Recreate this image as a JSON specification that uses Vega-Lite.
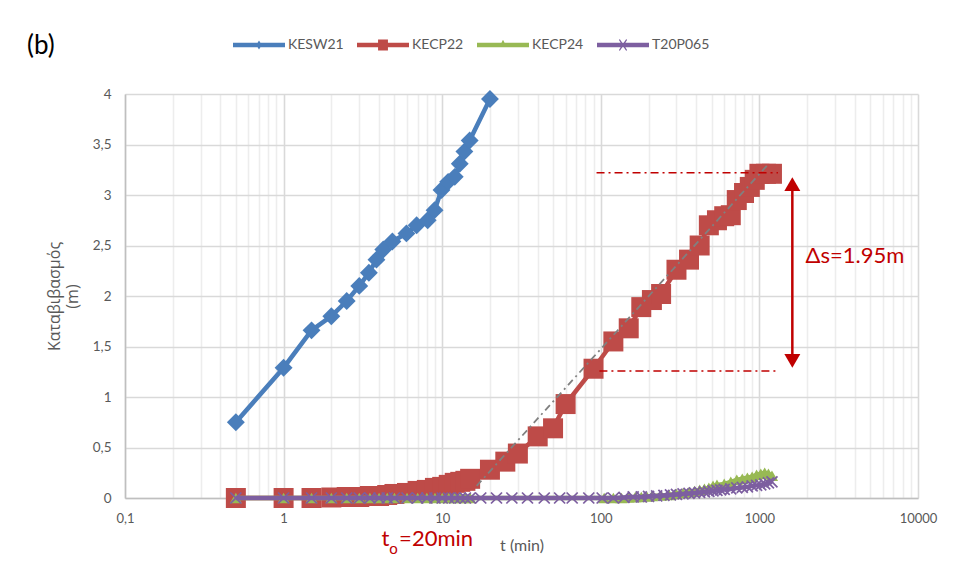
{
  "$schema": "https://vega.github.io/schema/vega-lite/v6.json",
  "width": 793,
  "height": 404,
  "autosize": {"type": "none"},
  "padding": {"left": 125, "top": 94, "right": 35, "bottom": 83},
  "background": "white",
  "title": {"text": "(b)", "anchor": "start", "frame": "group", "fontSize": 26, "font": "Lato", "fontWeight": "normal", "color": "#000000", "dx": -98, "offset": -40},
  "config": {
    "view": {"stroke": null},
    "font": "Lato",
    "axis": {"labelFont": "Lato", "labelColor": "#595959", "titleFont": "Lato", "titleColor": "#595959", "titleFontWeight": "normal", "ticks": false, "domainColor": "#bfbfbf", "domainWidth": 1.5}
  },
  "datasets": {
    "series": [
      {"t": 0.5, "s": 0.75, "well": "KESW21"}, {"t": 1, "s": 1.29, "well": "KESW21"}, {"t": 1.5, "s": 1.66, "well": "KESW21"}, {"t": 2, "s": 1.8, "well": "KESW21"}, {"t": 2.5, "s": 1.95, "well": "KESW21"}, {"t": 3, "s": 2.1, "well": "KESW21"}, {"t": 3.45, "s": 2.23, "well": "KESW21"}, {"t": 3.85, "s": 2.36, "well": "KESW21"}, {"t": 4.25, "s": 2.46, "well": "KESW21"}, {"t": 4.85, "s": 2.54, "well": "KESW21"}, {"t": 5.95, "s": 2.62, "well": "KESW21"}, {"t": 6.9, "s": 2.7, "well": "KESW21"}, {"t": 8.1, "s": 2.75, "well": "KESW21"}, {"t": 8.95, "s": 2.85, "well": "KESW21"}, {"t": 9.9, "s": 3.05, "well": "KESW21"}, {"t": 10.9, "s": 3.13, "well": "KESW21"}, {"t": 12, "s": 3.18, "well": "KESW21"}, {"t": 12.9, "s": 3.31, "well": "KESW21"}, {"t": 13.8, "s": 3.43, "well": "KESW21"}, {"t": 14.9, "s": 3.54, "well": "KESW21"}, {"t": 20, "s": 3.95, "well": "KESW21"},
      {"t": 0.5, "s": 0, "well": "KECP22"}, {"t": 1, "s": 0, "well": "KECP22"}, {"t": 1.5, "s": 0, "well": "KECP22"}, {"t": 2, "s": 0.005, "well": "KECP22"}, {"t": 2.5, "s": 0.01, "well": "KECP22"}, {"t": 3, "s": 0.01, "well": "KECP22"}, {"t": 3.5, "s": 0.02, "well": "KECP22"}, {"t": 4, "s": 0.02, "well": "KECP22"}, {"t": 4.5, "s": 0.03, "well": "KECP22"}, {"t": 5, "s": 0.04, "well": "KECP22"}, {"t": 6, "s": 0.05, "well": "KECP22"}, {"t": 7, "s": 0.07, "well": "KECP22"}, {"t": 8, "s": 0.08, "well": "KECP22"}, {"t": 9, "s": 0.1, "well": "KECP22"}, {"t": 10, "s": 0.11, "well": "KECP22"}, {"t": 11, "s": 0.13, "well": "KECP22"}, {"t": 12, "s": 0.15, "well": "KECP22"}, {"t": 13, "s": 0.16, "well": "KECP22"}, {"t": 14, "s": 0.17, "well": "KECP22"}, {"t": 15, "s": 0.19, "well": "KECP22"}, {"t": 20, "s": 0.28, "well": "KECP22"}, {"t": 25, "s": 0.36, "well": "KECP22"}, {"t": 30, "s": 0.44, "well": "KECP22"}, {"t": 40, "s": 0.61, "well": "KECP22"}, {"t": 50, "s": 0.69, "well": "KECP22"}, {"t": 60, "s": 0.93, "well": "KECP22"}, {"t": 90, "s": 1.28, "well": "KECP22"}, {"t": 120, "s": 1.55, "well": "KECP22"}, {"t": 150, "s": 1.68, "well": "KECP22"}, {"t": 180, "s": 1.89, "well": "KECP22"}, {"t": 210, "s": 1.96, "well": "KECP22"}, {"t": 240, "s": 2.02, "well": "KECP22"}, {"t": 300, "s": 2.26, "well": "KECP22"}, {"t": 360, "s": 2.36, "well": "KECP22"}, {"t": 420, "s": 2.5, "well": "KECP22"}, {"t": 480, "s": 2.7, "well": "KECP22"}, {"t": 540, "s": 2.75, "well": "KECP22"}, {"t": 600, "s": 2.79, "well": "KECP22"}, {"t": 660, "s": 2.8, "well": "KECP22"}, {"t": 720, "s": 2.95, "well": "KECP22"}, {"t": 800, "s": 3.02, "well": "KECP22"}, {"t": 870, "s": 3.08, "well": "KECP22"}, {"t": 935, "s": 3.15, "well": "KECP22"}, {"t": 1000, "s": 3.21, "well": "KECP22"}, {"t": 1100, "s": 3.21, "well": "KECP22"}, {"t": 1200, "s": 3.21, "well": "KECP22"},
      {"t": 0.5, "s": 0, "well": "KECP24"}, {"t": 1, "s": 0, "well": "KECP24"}, {"t": 1.5, "s": 0, "well": "KECP24"}, {"t": 2, "s": 0, "well": "KECP24"}, {"t": 2.5, "s": 0, "well": "KECP24"}, {"t": 3, "s": 0, "well": "KECP24"}, {"t": 3.5, "s": 0, "well": "KECP24"}, {"t": 4, "s": 0, "well": "KECP24"}, {"t": 4.5, "s": 0, "well": "KECP24"}, {"t": 5, "s": 0, "well": "KECP24"}, {"t": 6, "s": 0, "well": "KECP24"}, {"t": 7, "s": 0, "well": "KECP24"}, {"t": 8, "s": 0, "well": "KECP24"}, {"t": 9, "s": 0, "well": "KECP24"}, {"t": 10, "s": 0, "well": "KECP24"}, {"t": 11, "s": 0, "well": "KECP24"}, {"t": 12, "s": 0, "well": "KECP24"}, {"t": 13, "s": 0, "well": "KECP24"}, {"t": 14, "s": 0, "well": "KECP24"}, {"t": 15, "s": 0, "well": "KECP24"}, {"t": 105, "s": 0, "well": "KECP24"}, {"t": 120, "s": 0, "well": "KECP24"}, {"t": 135, "s": 0, "well": "KECP24"}, {"t": 150, "s": 0.005, "well": "KECP24"}, {"t": 165, "s": 0.01, "well": "KECP24"}, {"t": 180, "s": 0.01, "well": "KECP24"}, {"t": 195, "s": 0.015, "well": "KECP24"}, {"t": 210, "s": 0.02, "well": "KECP24"}, {"t": 240, "s": 0.025, "well": "KECP24"}, {"t": 270, "s": 0.03, "well": "KECP24"}, {"t": 300, "s": 0.04, "well": "KECP24"}, {"t": 330, "s": 0.05, "well": "KECP24"}, {"t": 360, "s": 0.06, "well": "KECP24"}, {"t": 390, "s": 0.07, "well": "KECP24"}, {"t": 420, "s": 0.08, "well": "KECP24"}, {"t": 450, "s": 0.09, "well": "KECP24"}, {"t": 480, "s": 0.1, "well": "KECP24"}, {"t": 510, "s": 0.12, "well": "KECP24"}, {"t": 540, "s": 0.13, "well": "KECP24"}, {"t": 600, "s": 0.14, "well": "KECP24"}, {"t": 660, "s": 0.16, "well": "KECP24"}, {"t": 720, "s": 0.18, "well": "KECP24"}, {"t": 780, "s": 0.19, "well": "KECP24"}, {"t": 840, "s": 0.2, "well": "KECP24"}, {"t": 900, "s": 0.21, "well": "KECP24"}, {"t": 960, "s": 0.23, "well": "KECP24"}, {"t": 1020, "s": 0.24, "well": "KECP24"}, {"t": 1080, "s": 0.25, "well": "KECP24"}, {"t": 1140, "s": 0.24, "well": "KECP24"}, {"t": 1200, "s": 0.22, "well": "KECP24"},
      {"t": 0.5, "s": 0, "well": "T20P065"}, {"t": 1, "s": 0, "well": "T20P065"}, {"t": 1.5, "s": 0, "well": "T20P065"}, {"t": 2, "s": 0, "well": "T20P065"}, {"t": 2.5, "s": 0, "well": "T20P065"}, {"t": 3, "s": 0, "well": "T20P065"}, {"t": 3.5, "s": 0, "well": "T20P065"}, {"t": 4, "s": 0, "well": "T20P065"}, {"t": 4.5, "s": 0, "well": "T20P065"}, {"t": 5, "s": 0, "well": "T20P065"}, {"t": 6, "s": 0, "well": "T20P065"}, {"t": 7, "s": 0, "well": "T20P065"}, {"t": 8, "s": 0, "well": "T20P065"}, {"t": 9, "s": 0, "well": "T20P065"}, {"t": 10, "s": 0, "well": "T20P065"}, {"t": 11, "s": 0, "well": "T20P065"}, {"t": 12, "s": 0, "well": "T20P065"}, {"t": 13, "s": 0, "well": "T20P065"}, {"t": 14, "s": 0, "well": "T20P065"}, {"t": 15, "s": 0, "well": "T20P065"}, {"t": 17.5, "s": 0, "well": "T20P065"}, {"t": 22, "s": 0, "well": "T20P065"}, {"t": 27.5, "s": 0, "well": "T20P065"}, {"t": 34.5, "s": 0, "well": "T20P065"}, {"t": 44, "s": 0, "well": "T20P065"}, {"t": 55, "s": 0, "well": "T20P065"}, {"t": 66, "s": 0, "well": "T20P065"}, {"t": 84, "s": 0, "well": "T20P065"}, {"t": 102, "s": 0, "well": "T20P065"}, {"t": 120, "s": 0, "well": "T20P065"}, {"t": 140, "s": 0.005, "well": "T20P065"}, {"t": 160, "s": 0.01, "well": "T20P065"}, {"t": 180, "s": 0.01, "well": "T20P065"}, {"t": 200, "s": 0.015, "well": "T20P065"}, {"t": 225, "s": 0.02, "well": "T20P065"}, {"t": 250, "s": 0.025, "well": "T20P065"}, {"t": 275, "s": 0.03, "well": "T20P065"}, {"t": 300, "s": 0.035, "well": "T20P065"}, {"t": 330, "s": 0.04, "well": "T20P065"}, {"t": 360, "s": 0.045, "well": "T20P065"}, {"t": 390, "s": 0.05, "well": "T20P065"}, {"t": 420, "s": 0.055, "well": "T20P065"}, {"t": 450, "s": 0.06, "well": "T20P065"}, {"t": 480, "s": 0.065, "well": "T20P065"}, {"t": 510, "s": 0.07, "well": "T20P065"}, {"t": 540, "s": 0.075, "well": "T20P065"}, {"t": 570, "s": 0.08, "well": "T20P065"}, {"t": 600, "s": 0.085, "well": "T20P065"}, {"t": 660, "s": 0.09, "well": "T20P065"}, {"t": 720, "s": 0.1, "well": "T20P065"}, {"t": 780, "s": 0.105, "well": "T20P065"}, {"t": 840, "s": 0.11, "well": "T20P065"}, {"t": 900, "s": 0.12, "well": "T20P065"}, {"t": 960, "s": 0.125, "well": "T20P065"}, {"t": 1020, "s": 0.13, "well": "T20P065"}, {"t": 1080, "s": 0.14, "well": "T20P065"}, {"t": 1140, "s": 0.15, "well": "T20P065"}, {"t": 1200, "s": 0.16, "well": "T20P065"}
    ],
    "trend": [{"t": 16.5, "s": 0.12}, {"t": 1130, "s": 3.3}],
    "hlines": [{"t1": 94, "t2": 1309, "s": 3.22}, {"t1": 98, "t2": 1309, "s": 1.257}],
    "arrow": [{"t": 1613, "s_top": 3.107, "s_bottom": 1.358}],
    "notes": [{"t": 1955, "s": 2.33, "label": "Δs=1.95m"}, {"t": 4.15, "s": -0.48, "label": "t"}, {"t": 5.35, "s": -0.48, "label": "=20min"}],
    "subs": [{"t": 4.63, "s": -0.555, "label": "o"}]
  },
  "layer": [
    {
      "data": {"name": "series"},
      "transform": [{"filter": "datum.well === 'KESW21'"}],
      "mark": {"type": "line", "strokeWidth": 4.5, "point": {"shape": "diamond", "size": 320, "filled": true, "opacity": 1}},
      "encoding": {
        "x": {"field": "t", "type": "quantitative", "scale": {"type": "log", "domain": [0.1, 10000], "nice": false},
          "axis": {"title": "t (min)", "titleFontSize": 16, "titlePadding": 12, "labelFontSize": 13, "labelPadding": 14, "labelFlush": false, "labelOverlap": false,
            "values": [0.1,0.2,0.3,0.4,0.5,0.6,0.7,0.8,0.9,1,2,3,4,5,6,7,8,9,10,20,30,40,50,60,70,80,90,100,200,300,400,500,600,700,800,900,1000,2000,3000,4000,5000,6000,7000,8000,9000,10000],
            "labelExpr": "abs(log(datum.value)/LN10 - round(log(datum.value)/LN10)) < 1e-6 ? replace(format(datum.value, ''), '.', ',') : ''",
            "grid": true,
            "gridColor": {"condition": {"test": "abs(log(datum.value)/LN10 - round(log(datum.value)/LN10)) < 1e-6", "value": "#d9d9d9"}, "value": "#ededed"},
            "gridWidth": 1.6}},
        "y": {"field": "s", "type": "quantitative", "scale": {"domain": [0, 4], "nice": false},
          "axis": {"title": ["Καταβιβασμός", "(m)"], "titleFont": "Open Sans", "titleFontSize": 16, "titleLineHeight": 18, "titlePadding": 12, "labelFontSize": 13.5, "labelPadding": 14,
            "values": [0, 0.5, 1, 1.5, 2, 2.5, 3, 3.5, 4],
            "labelExpr": "replace(format(datum.value, ''), '.', ',')",
            "grid": true, "gridColor": "#d9d9d9", "gridWidth": 1.6}},
        "color": {"field": "well", "type": "nominal",
          "scale": {"domain": ["KESW21", "KECP22", "KECP24", "T20P065"], "range": ["#4A7EBB", "#BE4B48", "#98B954", "#7D5FA0"]},
          "legend": {"orient": "none", "legendX": 108, "legendY": -75, "direction": "horizontal", "title": null,
            "labelFontSize": 14, "labelColor": "#595959", "labelFont": "Lato", "symbolSize": 2704, "labelOffset": 3, "columnPadding": 13,
            "encode": {"symbols": {"update": {
              "shape": {"signal": "datum.value === 'KESW21' ? 'M-1,-0.09H1V0.09H-1Z M0,-0.17L0.11,0L0,0.17L-0.11,0Z' : datum.value === 'KECP22' ? 'M-1,-0.09H1V0.09H-1Z M-0.19,-0.21H0.19V0.21H-0.19Z' : datum.value === 'KECP24' ? 'M-1,-0.09H1V0.09H-1Z M0,-0.2L0.13,0.05L-0.13,0.05Z' : 'M-1,-0.09H1V0.09H-1Z M-0.16,-0.2L-0.12,-0.22L0,-0.05L0.12,-0.22L0.16,-0.2L0.04,0L0.16,0.2L0.12,0.22L0,0.05L-0.12,0.22L-0.16,0.2L-0.04,0Z'"},
              "fill": {"signal": "scale('color', datum.value)"},
              "stroke": {"value": "transparent"},
              "strokeWidth": {"value": 0},
              "opacity": {"value": 1}
            }}}}
        }
      }
    },
    {
      "data": {"name": "series"},
      "transform": [{"filter": "datum.well === 'KECP22'"}],
      "mark": {"type": "line", "strokeWidth": 4.5, "point": {"shape": "square", "size": 400, "filled": true, "opacity": 1}},
      "encoding": {
        "x": {"field": "t", "type": "quantitative"},
        "y": {"field": "s", "type": "quantitative"},
        "color": {"field": "well", "type": "nominal"}
      }
    },
    {
      "data": {"name": "trend"},
      "mark": {"type": "line", "color": "#808080", "strokeWidth": 1.8, "strokeDash": [7, 4, 2, 4]},
      "encoding": {
        "x": {"field": "t", "type": "quantitative"},
        "y": {"field": "s", "type": "quantitative"}
      }
    },
    {
      "data": {"name": "series"},
      "transform": [{"filter": "datum.well === 'KECP24'"}],
      "mark": {"type": "line", "strokeWidth": 4.5, "point": {"shape": "triangle-up", "size": 150, "filled": true, "opacity": 1}},
      "encoding": {
        "x": {"field": "t", "type": "quantitative"},
        "y": {"field": "s", "type": "quantitative"},
        "color": {"field": "well", "type": "nominal"}
      }
    },
    {
      "data": {"name": "series"},
      "transform": [{"filter": "datum.well === 'T20P065'"}],
      "mark": {"type": "line", "strokeWidth": 4.5, "point": {"shape": "M-1,-0.8L-0.8,-1L0,-0.2L0.8,-1L1,-0.8L0.2,0L1,0.8L0.8,1L0,0.2L-0.8,1L-1,0.8L-0.2,0Z", "size": 150, "filled": true, "opacity": 1}},
      "encoding": {
        "x": {"field": "t", "type": "quantitative"},
        "y": {"field": "s", "type": "quantitative"},
        "color": {"field": "well", "type": "nominal"}
      }
    },
    {
      "data": {"name": "hlines"},
      "mark": {"type": "rule", "color": "#C00000", "strokeWidth": 1.6, "strokeDash": [8, 4, 2, 4]},
      "encoding": {
        "x": {"field": "t1", "type": "quantitative"},
        "x2": {"field": "t2"},
        "y": {"field": "s", "type": "quantitative"}
      }
    },
    {
      "data": {"name": "arrow"},
      "mark": {"type": "rule", "color": "#C00000", "strokeWidth": 2.5},
      "encoding": {
        "x": {"field": "t", "type": "quantitative"},
        "y": {"field": "s_bottom", "type": "quantitative"},
        "y2": {"field": "s_top"}
      }
    },
    {
      "data": {"name": "arrow"},
      "mark": {"type": "point", "shape": "triangle-up", "size": 256, "filled": true, "color": "#C00000", "opacity": 1},
      "encoding": {
        "x": {"field": "t", "type": "quantitative"},
        "y": {"field": "s_top", "type": "quantitative"}
      }
    },
    {
      "data": {"name": "arrow"},
      "mark": {"type": "point", "shape": "triangle-down", "size": 256, "filled": true, "color": "#C00000", "opacity": 1},
      "encoding": {
        "x": {"field": "t", "type": "quantitative"},
        "y": {"field": "s_bottom", "type": "quantitative"}
      }
    },
    {
      "data": {"name": "notes"},
      "mark": {"type": "text", "color": "#C00000", "font": "Lato", "fontSize": 22, "align": "left", "baseline": "alphabetic"},
      "encoding": {
        "x": {"field": "t", "type": "quantitative"},
        "y": {"field": "s", "type": "quantitative"},
        "text": {"field": "label"}
      }
    },
    {
      "data": {"name": "subs"},
      "mark": {"type": "text", "color": "#C00000", "font": "Lato", "fontSize": 15, "align": "left", "baseline": "alphabetic"},
      "encoding": {
        "x": {"field": "t", "type": "quantitative"},
        "y": {"field": "s", "type": "quantitative"},
        "text": {"field": "label"}
      }
    }
  ]
}
